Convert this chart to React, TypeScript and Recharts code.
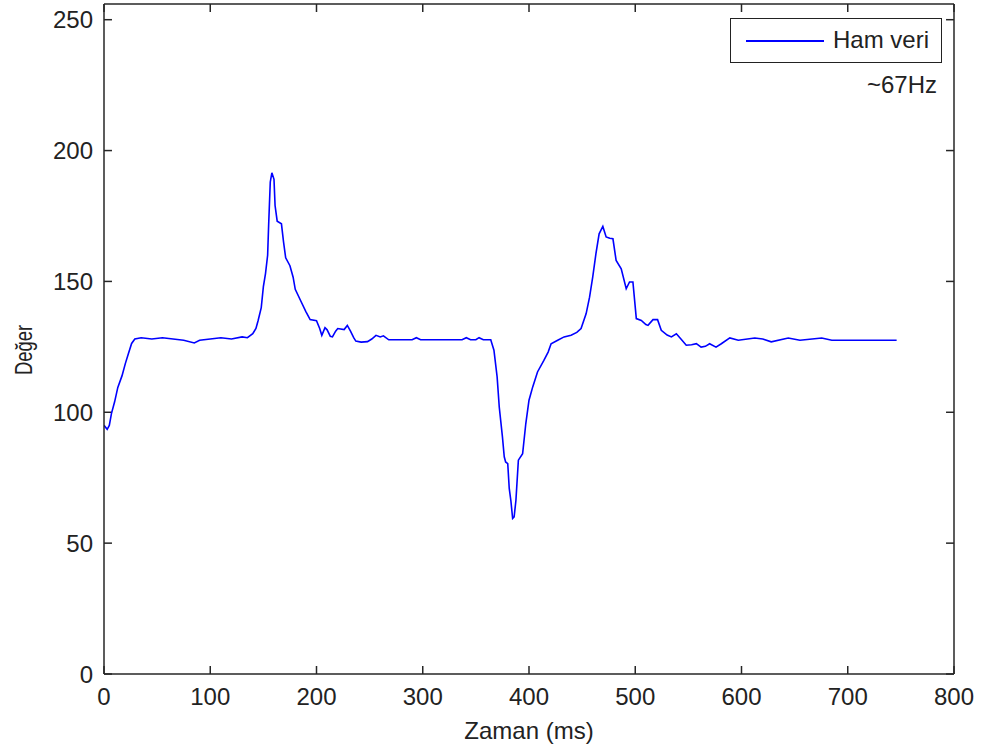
import React from 'react';
import { LineChart, Line, XAxis, YAxis, Legend, Label, ReferenceLine } from 'recharts';

// sample times (ms) and raw sensor values
const timeMs = [
  0, 3, 5, 7, 10, 13, 17, 20, 23, 26, 29, 35, 45, 55, 65, 75, 85, 90, 100, 110,
  120, 130, 135, 140, 143, 145, 148, 150, 152, 154, 155, 156.5, 158, 160, 161, 163, 167, 169, 171, 175,
  178, 180, 185, 190, 194, 200, 203, 205, 208, 210, 213, 215, 218, 220, 226, 229, 232, 235, 237, 242,
  248, 252, 256, 260, 263, 268, 290, 294, 298, 337, 341, 345, 350, 353, 357, 364, 367, 370, 372, 375,
  376.7, 378, 380, 381.4, 383, 384.6, 386, 387.7, 390, 394, 397, 400, 403.5, 408, 414, 418, 420.8, 427, 433, 439.6,
  445, 449, 453.8, 457, 460, 463, 466, 469.5, 472.6, 476, 479, 482, 486.8, 491.5, 494.6, 497.8, 501, 505.7, 510, 512,
  516.7, 521, 524.5, 530, 534, 538.7, 543, 548, 553, 557.5, 562, 566, 570, 576, 581, 589, 597, 612.5, 620, 628,
  644, 655, 675.5, 685, 746,
];
const rawValue = [
  95, 93.5, 95, 99.5, 104, 109.5, 114, 118.5, 122.5, 126.3, 128, 128.5, 128, 128.5, 128, 127.5, 126.5, 127.5, 128, 128.5,
  128, 128.8, 128.5, 130, 132, 135, 140, 148, 153, 160, 172, 188, 191.5, 189, 179, 173, 172, 165, 159, 156,
  151.6, 147, 142.7, 138.5, 135.4, 135, 132, 129.4, 132.3, 131.5, 129, 128.8, 131, 132, 131.6, 133.2, 131, 128.5, 127.2, 126.8,
  127, 128, 129.4, 128.8, 129.2, 127.7, 127.7, 128.5, 127.7, 127.7, 128.5, 127.7, 127.7, 128.5, 127.7, 127.7, 123.7, 113.5, 102, 90.6,
  83, 81, 80.4, 70.9, 66, 59.4, 60, 66.4, 81.7, 84.2, 95.7, 104.6, 109.7, 115.4, 119.8, 123, 126.2, 127.5, 128.8, 129.4,
  130.5, 132, 137.7, 144, 151.7, 160.6, 168.2, 171, 167, 166.5, 166.3, 158, 154.8, 147.2, 149.8, 149.8, 135.8, 135.1, 133.5, 133.2,
  135.4, 135.4, 131.3, 129.5, 128.8, 130, 128, 125.6, 125.8, 126.2, 124.9, 125.2, 126.2, 124.9, 126.2, 128.4, 127.5, 128.4, 128, 126.9,
  128.4, 127.5, 128.4, 127.5, 127.5,
];

const xTicks = [0, 100, 200, 300, 400, 500, 600, 700, 800];
const yTicks = [0, 50, 100, 150, 200, 250];
const X_MAX = 800;
const Y_MAX = 256;

const data = timeMs.map((t, i) => ({ t, v: rawValue[i] }));

const FONT = '"Liberation Sans", Arial, sans-serif';
const AXIS = '#262626';
const BOTTOM_GAP = 14;
const LEFT_GAP = 11;
// inward tick length, in axis units (~8px)
const X_TICK_LEN = 7.5;
const Y_TICK_LEN = 3.06;
const textStyle = { fontSize: 24, fill: '#222', fontFamily: FONT };

const bottomTick = (props: any) => {
  const { x, y, payload } = props;
  return <text x={x} y={y} dy="0.71em" textAnchor="middle" style={textStyle}>{payload.value}</text>;
};

const leftTick = (props: any) => {
  const { x, y, payload } = props;
  return <text x={x} y={y} dy="0.36em" textAnchor="end" style={textStyle}>{payload.value}</text>;
};

const LegendBox = () => (
  <div
    style={{
      width: 212,
      height: 45,
      boxSizing: 'border-box',
      border: '1.5px solid #222',
      background: '#fff',
      position: 'relative',
      fontFamily: FONT,
      fontSize: 24,
      color: '#222',
    }}
  >
    <div style={{ position: 'absolute', left: 15, top: 21, width: 78, height: 1.5, background: '#0000ff' }} />
    <div style={{ position: 'absolute', left: 102, top: 7, lineHeight: '28px' }}>Ham veri</div>
  </div>
);

const YLabel = () => (
  <text
    x={23}
    y={350}
    transform="rotate(-90 23 350)"
    textAnchor="middle"
    dominantBaseline="central"
    textLength={50}
    lengthAdjust="spacingAndGlyphs"
    style={textStyle}
  >
    Değer
  </text>
);

export default function App() {
  return (
    <div style={{ position: 'absolute', left: 0, top: 0, width: 983, height: 751, background: '#fff' }}>
      <LineChart width={983} height={751} data={data} margin={{ top: 3, right: 28, bottom: 0, left: 0 }}>
        <XAxis
          dataKey="t"
          type="number"
          domain={[0, X_MAX]}
          allowDataOverflow
          ticks={xTicks}
          height={77}
          stroke={AXIS}
          strokeWidth={1.5}
          tickLine={false}
          tickSize={0}
          tickMargin={BOTTOM_GAP}
          tick={bottomTick}
          interval={0}
        >
          <Label value="Zaman (ms)" position="insideBottom" offset={12} style={textStyle} />
        </XAxis>
        <XAxis
          xAxisId="top"
          orientation="top"
          dataKey="t"
          type="number"
          domain={[0, X_MAX]}
          allowDataOverflow
          ticks={xTicks}
          height={1}
          stroke={AXIS}
          strokeWidth={1.5}
          tickLine={false}
          tick={false}
        />
        <YAxis
          type="number"
          domain={[0, Y_MAX]}
          allowDataOverflow
          ticks={yTicks}
          width={104}
          stroke={AXIS}
          strokeWidth={1.5}
          tickLine={false}
          tickSize={0}
          tickMargin={LEFT_GAP}
          tick={leftTick}
          interval={0}
          label={<YLabel />}
        />
        <YAxis
          yAxisId="right"
          orientation="right"
          type="number"
          domain={[0, Y_MAX]}
          allowDataOverflow
          ticks={yTicks}
          width={1}
          stroke={AXIS}
          strokeWidth={1.5}
          tickLine={false}
          tick={false}
        />

        {/* inward tick marks on all four sides */}
        {xTicks.map((t) => (
          <ReferenceLine key={`xb${t}`} segment={[{ x: t, y: 0 }, { x: t, y: Y_TICK_LEN }]} stroke={AXIS} strokeWidth={1.5} ifOverflow="visible" />
        ))}
        {xTicks.map((t) => (
          <ReferenceLine key={`xt${t}`} segment={[{ x: t, y: Y_MAX }, { x: t, y: Y_MAX - Y_TICK_LEN }]} stroke={AXIS} strokeWidth={1.5} ifOverflow="visible" />
        ))}
        {yTicks.map((v) => (
          <ReferenceLine key={`yl${v}`} segment={[{ x: 0, y: v }, { x: X_TICK_LEN, y: v }]} stroke={AXIS} strokeWidth={1.5} ifOverflow="visible" />
        ))}
        {yTicks.map((v) => (
          <ReferenceLine key={`yr${v}`} segment={[{ x: X_MAX, y: v }, { x: X_MAX - X_TICK_LEN, y: v }]} stroke={AXIS} strokeWidth={1.5} ifOverflow="visible" />
        ))}

        <Legend
          layout="horizontal"
          verticalAlign="middle"
          align="center"
          content={() => <LegendBox />}
          wrapperStyle={{ left: 730, top: 18, width: 212, height: 45 }}
        />
        <Line
          type="linear"
          dataKey="v"
          stroke="#0000ff"
          strokeWidth={1.6}
          dot={false}
          isAnimationActive={false}
        />
      </LineChart>
      <div
        style={{
          position: 'absolute',
          right: 983 - 937,
          top: 71,
          fontFamily: FONT,
          fontSize: 24,
          color: '#222',
          lineHeight: '28px',
        }}
      >
        ~67Hz
      </div>
    </div>
  );
}
